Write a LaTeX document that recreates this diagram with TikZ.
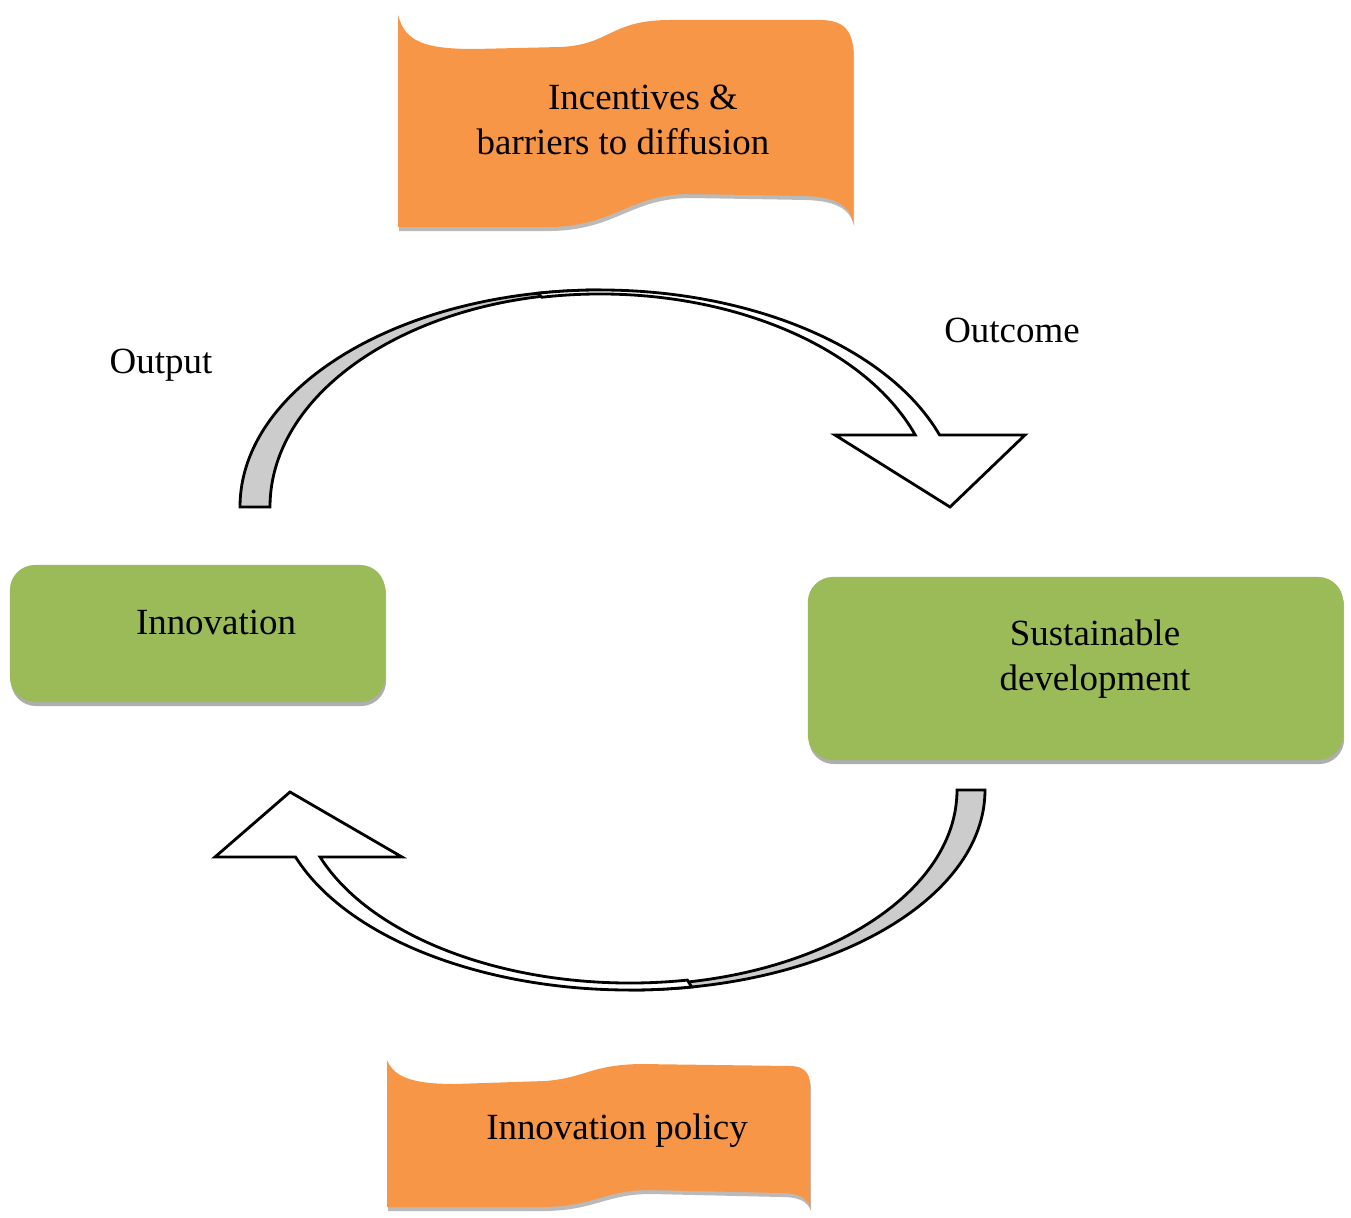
\documentclass[tikz,border=0pt]{standalone}
\usepackage{fontspec}
\setmainfont{Liberation Serif}
\usetikzlibrary{shadows,calc}
\definecolor{waveorange}{HTML}{F79646}
\definecolor{boxgreen}{HTML}{9BBB59}
\begin{document}
\begin{tikzpicture}[x=0.01cm, y=0.01cm,
		font=\fontsize{10.5}{12.8}\selectfont,
		box/.style={fill=boxgreen, rounded corners=0.25cm,
			drop shadow={shadow xshift=0.01cm, shadow yshift=-0.04cm, fill=black!45, opacity=0.7}},
		wave/.style={fill=waveorange,
			drop shadow={shadow xshift=0.01cm, shadow yshift=-0.04cm, fill=black!45, opacity=0.6}},
		band/.style={draw=black, line width=0.8pt, line join=miter}]
		\useasboundingbox (0,0) rectangle (1351,1217);
		
		% banners
		\fill[wave] (398,1202) .. controls (405,1175) and (425,1168) .. (475,1168) -- (560,1170)
			.. controls (610,1172) and (610,1197) .. (670,1197) -- (820,1197)
			.. controls (845,1197) and (853,1185) .. (853,1165) -- (853,995)
			.. controls (850,1010) and (838,1020) .. (805,1021) -- (690,1023)
			.. controls (630,1023) and (615,991) .. (550,990) -- (398,990) -- cycle;
		\node[align=center] (incent) at (623,1097) {\hspace*{0.4cm}Incentives \&\\barriers to diffusion};
		
		\fill[wave] (387,157) .. controls (394,140) and (412,133) .. (455,133) -- (545,136)
			.. controls (585,139) and (590,152) .. (640,153) -- (790,151)
			.. controls (803,151) and (810,145) .. (810,132) -- (810,10)
			.. controls (806,20) and (798,24) .. (780,24) -- (650,27)
			.. controls (605,27) and (595,11) .. (545,10) -- (387,10) -- cycle;
		\node (policy) at (617,86) {Innovation policy};
		
		% boxes
		\node[box, minimum width=3.75cm, minimum height=1.37cm] (inno) at (197.5,583.5) {};
		\node (innolabel) at (216,595) {Innovation};
		\node[box, minimum width=5.35cm, minimum height=1.83cm] (sust) at (1075.5,548.5) {};
		\node[align=center] (sustlabel) at (1095,558) {Sustainable\\development};
		
		% upper arrow
		\coordinate (ctop) at (600,710);
		\draw[band, fill=black!20] ($(ctop)+(180:360 and 217)$) arc[start angle=180, end angle=90, x radius=360, y radius=217]
			-- ($(ctop)+(90:330 and 214)$) arc[start angle=90, end angle=180, x radius=330, y radius=214] -- cycle;
		\draw[band, fill=white] ($(ctop)+(100:360 and 217)$) arc[start angle=100, end angle=19.4, x radius=360, y radius=217]
			-- (1025,782) -- (950,710) -- (835,782)
			-- ($(ctop)+(19.76:335 and 213)$) arc[start angle=19.76, end angle=100, x radius=335, y radius=213] -- cycle;
		\node (output) at (161,852) {Output};
		\node (outcome) at (1012,887) {Outcome};
		
		% lower arrow
		\coordinate (cbot) at (630,427);
		\draw[band, fill=black!20] ($(cbot)+(0:355 and 200)$) arc[start angle=0, end angle=-90, x radius=355, y radius=200]
			-- ($(cbot)+(-90:327 and 195)$) arc[start angle=-90, end angle=0, x radius=327, y radius=195] -- cycle;
		\draw[band, fill=white] ($(cbot)+(-80:355 and 200)$) arc[start angle=-80, end angle=-160.43, x radius=355, y radius=200]
			-- (215,360) -- (290,425) -- (402,360)
			-- ($(cbot)+(-159.7:330.5 and 193)$) arc[start angle=-159.7, end angle=-80, x radius=330.5, y radius=193] -- cycle;
		%\node at (630,200) {feedback};
	\end{tikzpicture}
\end{document}
